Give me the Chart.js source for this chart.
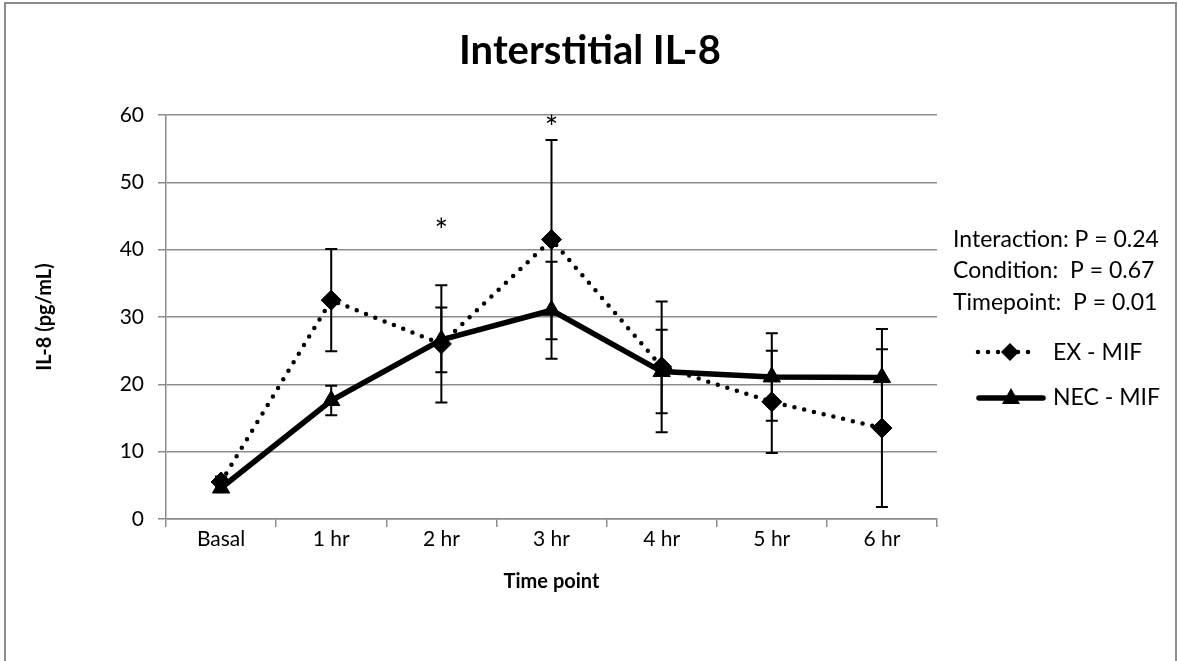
<!DOCTYPE html>
<html><head><meta charset="utf-8">
<script src="https://cdn.jsdelivr.net/npm/chart.js@4.4.0/dist/chart.umd.min.js"></script>
<style>html,body{margin:0;padding:0;background:#fff}#wrap{width:1178px;height:661px;position:relative}</style>
</head><body><div id="wrap"><canvas id="c" width="1178" height="661"></canvas></div>
<script>
const categories = ['Basal', '1 hr', '2 hr', '3 hr', '4 hr', '5 hr', '6 hr'];
const exMif  = [5.5, 32.5, 26.0, 41.5, 22.6, 17.4, 13.5];
const exErr  = [0.8, 7.6, 8.7, 14.8, 9.7, 7.6, 11.7];
const necMif = [4.6, 17.6, 26.6, 31.0, 21.9, 21.1, 21.0];
const necErr = [0.6, 2.2, 4.8, 7.2, 6.2, 6.5, 7.2];
const sigMarks = [null, null, 42.5, 59.4, null, null, null];
const statLines = ['Interaction: P = 0.24', 'Condition:  P = 0.67', 'Timepoint:  P = 0.01'];
const titleText = 'Interstitial IL-8';

const FONT = 'Lato, "Open Sans", sans-serif';
const GRID = '#8c8c8c';

const errorBarPlugin = {
  id: 'errbars',
  afterDatasetsDraw(chart) {
    const ctx = chart.ctx, ys = chart.scales.y;
    chart.data.datasets.forEach((ds, i) => {
      const meta = chart.getDatasetMeta(i);
      ds.errors.forEach((e, j) => {
        const pt = meta.data[j];
        const v = ds.data[j];
        const yt = ys.getPixelForValue(v + e), yb = ys.getPixelForValue(v - e);
        ctx.save();
        ctx.strokeStyle = '#000'; ctx.lineWidth = 2;
        ctx.beginPath();
        ctx.moveTo(pt.x, yt); ctx.lineTo(pt.x, yb);
        ctx.moveTo(pt.x - 6, yt); ctx.lineTo(pt.x + 6, yt);
        ctx.moveTo(pt.x - 6, yb); ctx.lineTo(pt.x + 6, yb);
        ctx.stroke();
        ctx.restore();
      });
    });
  }
};

const decorPlugin = {
  id: 'decor',
  afterDraw(chart) {
    const ctx = chart.ctx, xs = chart.scales.x, ys = chart.scales.y;
    ctx.save();
    // outer frame
    ctx.strokeStyle = GRID; ctx.lineWidth = 2;
    ctx.strokeRect(5, 3, 1171, 720);
    // title
    ctx.fillStyle = '#000';
    ctx.font = 'bold 40px ' + FONT;
    ctx.textAlign = 'center'; ctx.textBaseline = 'middle';
    ctx.fillText(titleText, 590, 51);
    // asterisks
    ctx.font = '32px ' + FONT;
    sigMarks.forEach((v, j) => {
      if (v == null) return;
      const m = ctx.measureText('*');
      const x = xs.getPixelForValue(j), y = ys.getPixelForValue(v);
      ctx.textBaseline = 'alphabetic';
      const off = (m.actualBoundingBoxAscent - m.actualBoundingBoxDescent) / 2;
      ctx.fillText('*', x, y + off);
    });
    // stats
    ctx.textAlign = 'left'; ctx.textBaseline = 'middle';
    ctx.font = '23px ' + FONT;
    const ly = [240, 271, 303];
    statLines.forEach((t, k) => ctx.fillText(t, 953, ly[k]));
    // legend
    const ds = chart.data.datasets;
    ctx.strokeStyle = '#000';
    ctx.lineWidth = 4.5; ctx.lineCap = 'round'; ctx.setLineDash([0, 10]);
    ctx.beginPath(); ctx.moveTo(978, 352); ctx.lineTo(1038, 352); ctx.stroke();
    ctx.setLineDash([]);
    ctx.fillStyle = '#000';
    ctx.beginPath();
    ctx.moveTo(1001, 352); ctx.lineTo(1010, 343); ctx.lineTo(1019, 352); ctx.lineTo(1010, 361); ctx.closePath(); ctx.fill();
    ctx.fillText(ds[0].label, 1053, 353);
    ctx.lineWidth = 5.5; ctx.lineCap = 'round';
    ctx.beginPath(); ctx.moveTo(979, 398); ctx.lineTo(1043, 398); ctx.stroke();
    ctx.beginPath();
    ctx.moveTo(1011, 388); ctx.lineTo(1020, 404); ctx.lineTo(1002, 404); ctx.closePath(); ctx.fill();
    ctx.fillText(ds[1].label, 1053, 398);
    ctx.restore();
  }
};

new Chart(document.getElementById('c').getContext('2d'), {
  type: 'line',
  data: {
    labels: categories,
    datasets: [
      {label: 'EX - MIF', data: exMif, errors: exErr, borderColor: '#000', backgroundColor: '#000',
       borderWidth: 4.5, borderDash: [0, 10], borderCapStyle: 'round', pointStyle: 'rectRot',
       pointRadius: 10, pointBorderWidth: 1, pointBorderColor: '#000', tension: 0},
      {label: 'NEC - MIF', data: necMif, errors: necErr, borderColor: '#000', backgroundColor: '#000',
       borderWidth: 5.5, pointStyle: 'triangle', pointRadius: 10, pointBorderWidth: 1, pointBorderColor: '#000', tension: 0}
    ]
  },
  options: {
    responsive: false, animation: false, devicePixelRatio: 1,
    layout: {padding: {left: 0, top: 115, right: 241, bottom: 0}},
    plugins: {legend: {display: false}, title: {display: false}, tooltip: {enabled: false}},
    scales: {
      x: {
        offset: true,
        afterFit(s) { s.height = 142; },
        grid: {display: true, drawOnChartArea: false, offset: true, tickLength: 8, color: GRID, lineWidth: 1.5},
        border: {display: true, color: GRID, width: 1.5},
        ticks: {color: '#000', font: {family: FONT, size: 21}, padding: 0},
        title: {display: true, text: 'Time point', color: '#000', font: {family: FONT, size: 20, weight: 'bold'}, padding: {top: 0, bottom: 67}}
      },
      y: {
        min: 0, max: 60,
        afterFit(s) { s.width = 166; },
        ticks: {stepSize: 10, color: '#000', font: {family: FONT, size: 21}, padding: 14},
        grid: {color: GRID, lineWidth: 1.5, tickLength: 8},
        border: {display: true, color: GRID, width: 1.5},
        title: {display: true, text: 'IL-8 (pg/mL)', color: '#000', font: {family: FONT, size: 20, weight: 'bold'}, padding: {top: 33, bottom: 0}}
      }
    }
  },
  plugins: [errorBarPlugin, decorPlugin]
});
</script>
</body></html>
